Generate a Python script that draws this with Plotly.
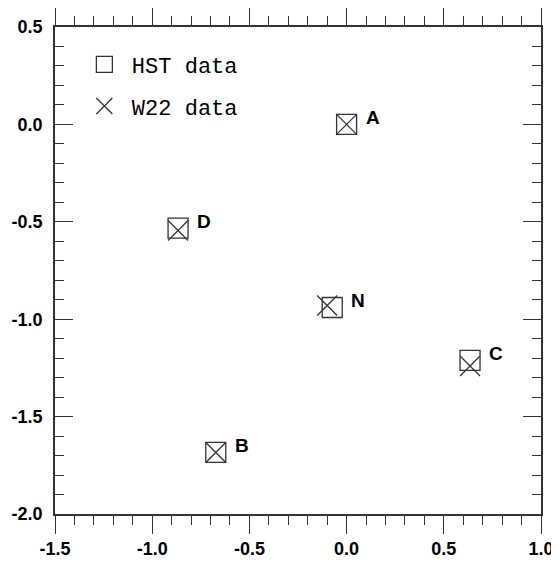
import plotly.graph_objects as go

names = ["A", "B", "C", "D", "N"]
hst_x = [0.0, -0.673, 0.635, -0.867, -0.074]
hst_y = [0.0, -1.684, -1.211, -0.532, -0.940]
w22_x = [0.0, -0.673, 0.635, -0.867, -0.100]
w22_y = [0.0, -1.684, -1.240, -0.545, -0.930]

xticks = [-1.5, -1.0, -0.5, 0.0, 0.5, 1.0]
xticklabels = ["-1.5", "-1.0", "-0.5", "0.0", "0.5", "1.0"]
yticks = [0.5, 0.0, -0.5, -1.0, -1.5, -2.0]
yticklabels = ["0.5", "0.0", "-0.5", "-1.0", "-1.5", "-2.0"]

ink = "#333333"

fig = go.Figure()
fig.add_trace(go.Scatter(
    x=hst_x, y=hst_y, mode="markers", name="HST data", legendgroup="hst",
    marker=dict(symbol="square-open", size=20, color=ink, line=dict(width=1.3, color=ink)),
))
fig.add_trace(go.Scatter(
    x=w22_x, y=w22_y, mode="markers", name="W22 data", legendgroup="w22",
    marker=dict(symbol="x-thin-open", size=20, color=ink, line=dict(width=1.3, color=ink)),
))

for n, x, y in zip(names, hst_x, hst_y):
    fig.add_annotation(x=x, y=y, text=n, showarrow=False, xanchor="left", yanchor="middle",
                       xshift=17, yshift=7,
                       font=dict(family="Liberation Sans", size=19, color="black", weight="bold"))

axis_common = dict(
    showgrid=False, zeroline=False, showline=True, linecolor=ink, linewidth=1.5,
    mirror="ticks", tickcolor=ink, tickwidth=1.3, ticklen=18, automargin=False,
    tickfont=dict(family="Liberation Sans", size=18, color="black", weight="bold"),
)

fig.update_xaxes(range=[-1.5, 1.0], tickvals=xticks, ticktext=xticklabels, ticks="outside",
                 minor=dict(ticks="outside", dtick=0.1, ticklen=9, tickcolor=ink, tickwidth=1.3),
                 ticklabelstandoff=0, **axis_common)
fig.update_yaxes(range=[-2.0, 0.5], tickvals=yticks, ticktext=yticklabels, ticks="inside",
                 minor=dict(ticks="inside", dtick=0.1, ticklen=9, tickcolor=ink, tickwidth=1.3),
                 ticklabelstandoff=7, **axis_common)

fig.update_layout(
    width=551, height=553,
    margin=dict(l=47, r=18, t=19, b=47),
    plot_bgcolor="white", paper_bgcolor="white",
    showlegend=True,
    legend=dict(x=0.045, y=0.966, xanchor="left", yanchor="top",
                font=dict(family="Liberation Mono", size=22, color="black"),
                bgcolor="rgba(0,0,0,0)", itemsizing="trace", itemwidth=45,
                tracegroupgap=10),
)

fig.write_html("out.html")
